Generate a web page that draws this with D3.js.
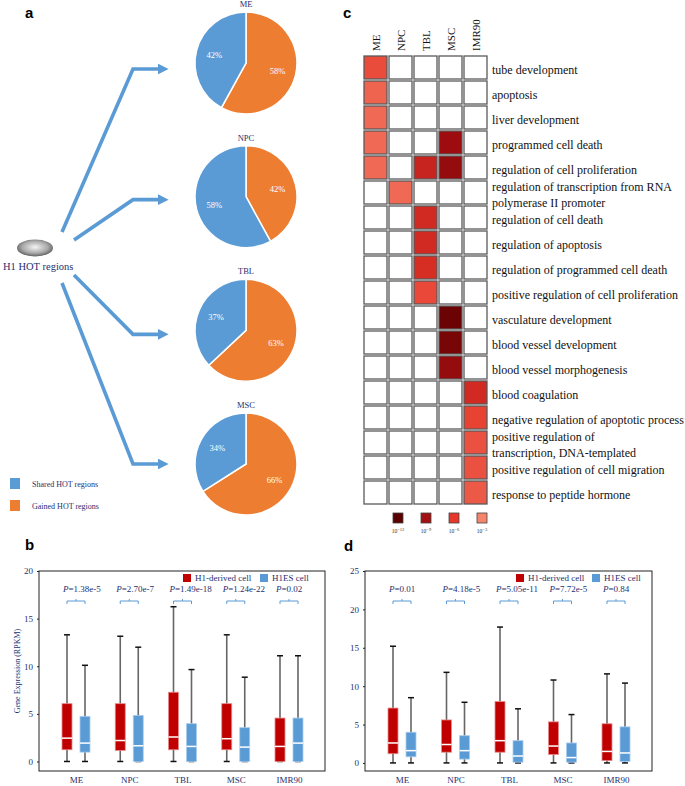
<!DOCTYPE html>
<html><head><meta charset="utf-8">
<script src="https://cdn.jsdelivr.net/npm/d3@7"></script>
<style>body{margin:0;background:#fff}</style>
</head><body><svg id="fig" width="685" height="786"></svg>
<script>
// ---------- DATA ----------
const pieCells = ["ME", "NPC", "TBL", "MSC"];
const gainedPct = [58, 42, 63, 66];
const sharedPct = [42, 58, 37, 34];
const pieLegend = ["Shared HOT regions", "Gained HOT regions"];

const goCols = ["ME", "NPC", "TBL", "MSC", "IMR90"];
const goTerms = [
  "tube development", "apoptosis", "liver development", "programmed cell death",
  "regulation of cell proliferation",
  "regulation of transcription from RNA\npolymerase II promoter",
  "regulation of cell death", "regulation of apoptosis", "regulation of programmed cell death",
  "positive regulation of cell proliferation", "vasculature development",
  "blood vessel development", "blood vessel morphogenesis", "blood coagulation",
  "negative regulation of apoptotic process",
  "positive regulation of\ntranscription, DNA-templated",
  "positive regulation of cell migration", "response to peptide hormone"
];
// log10 p-value per term (rows) and cell type (columns); null = not enriched
const goLogP = [
  [-5.2, null, null, null, null],
  [-4.3, null, null, null, null],
  [-4.1, null, null, null, null],
  [-4.1, null, null, -9.3, null],
  [-4.1, null, -7.4, -9.6, null],
  [null, -4.1, null, null, null],
  [null, null, -7.0, null, null],
  [null, null, -7.0, null, null],
  [null, null, -6.7, null, null],
  [null, null, -5.3, null, null],
  [null, null, null, -11.3, null],
  [null, null, null, -10.8, null],
  [null, null, null, -9.6, null],
  [null, null, null, null, -7.0],
  [null, null, null, null, -5.6],
  [null, null, null, null, -5.0],
  [null, null, null, null, -5.0],
  [null, null, null, null, -4.7]
];
const legendExp = [-12, -9, -6, -3];

const groups = ["ME", "NPC", "TBL", "MSC", "IMR90"];
const seriesNames = ["H1-derived cell", "H1ES cell"];
// [whisker low, Q1, median, Q3, whisker high]
const bDerived = [[0, 1.23, 2.45, 6.07, 13.3], [0, 1.16, 2.2, 6.07, 13.15], [0, 1.23, 2.57, 7.27, 16.25], [0, 1.23, 2.39, 6.07, 13.3], [0, 0, 1.58, 4.56, 11.1]];
const bES = [[0, 0.98, 1.93, 4.74, 10.1], [0, 0, 1.65, 4.84, 12.0], [0, 0, 1.58, 3.97, 9.65], [0, 0, 1.51, 3.55, 8.85], [0, 0, 1.93, 4.56, 11.1]];
const bPvals = ["1.38e-5", "2.70e-7", "1.49e-18", "1.24e-22", "0.02"];
const bTicks = [0, 5, 10, 15, 20];

const dDerived = [[0, 1.2, 2.6, 7.15, 15.2], [0, 1.4, 2.4, 5.6, 11.8], [0, 1.4, 2.9, 8.0, 17.7], [0, 1.1, 2.2, 5.35, 10.8], [0, 0.3, 1.5, 5.1, 11.6]];
const dES = [[0, 0.8, 1.6, 4.0, 8.5], [0, 0.5, 1.6, 3.55, 7.9], [0, 0.1, 0.9, 2.9, 7.05], [0, 0.1, 0.7, 2.6, 6.3], [0, 0.2, 1.3, 4.7, 10.4]];
const dPvals = ["0.01", "4.18e-5", "5.05e-11", "7.72e-5", "0.84"];
const dTicks = [0, 5, 10, 15, 20, 25];

// ---------- STYLE ----------
const NAVY = "#1f2f6e", BLUE = "#5b9bd5", ORANGE = "#ed7d31", RED = "#c00000";
const SERIF = "'Liberation Serif','Times New Roman',serif";
const SANS = "'Liberation Sans',Arial,sans-serif";
const svg = d3.select("#fig");
svg.append("rect").attr("width", 685).attr("height", 786).attr("fill", "#fff");

function panelLabel(t, x, y) {
  svg.append("text").attr("x", x).attr("y", y).text(t)
    .attr("font-family", SANS).attr("font-weight", "bold").attr("font-size", 15).attr("fill", "#000");
}
panelLabel("a", 25, 18); panelLabel("b", 25, 550); panelLabel("c", 343, 18); panelLabel("d", 344, 551);

// ---------- PANEL A ----------
const defs = svg.append("defs");
const grad = defs.append("radialGradient").attr("id", "eg").attr("cx", "50%").attr("cy", "45%").attr("r", "60%");
grad.append("stop").attr("offset", "0%").attr("stop-color", "#f4f4f4");
grad.append("stop").attr("offset", "60%").attr("stop-color", "#a8a8a8");
grad.append("stop").attr("offset", "100%").attr("stop-color", "#4a4a4a");
const mk = defs.append("marker").attr("id", "ah").attr("viewBox", "0 0 10 10").attr("refX", 2).attr("refY", 5)
  .attr("markerWidth", 3).attr("markerHeight", 3).attr("orient", "auto").attr("markerUnits", "strokeWidth");
mk.append("path").attr("d", "M0,0L10,5L0,10Z").attr("fill", BLUE);

const pieY = d3.scalePoint().domain(pieCells).range([63, 464]);
const pieCx = 246, pieR = 51;
const pie = d3.pie().sort(null).value(d => d.v);
const arc = d3.arc().innerRadius(0).outerRadius(pieR);
const labArc = d3.arc().innerRadius(pieR * 0.64).outerRadius(pieR * 0.64);
const starts = [[62, 232], [74, 240], [74, 275], [62, 283]];

pieCells.forEach((c, i) => {
  const cy = pieY(c);
  const g = svg.append("g").attr("transform", `translate(${pieCx},${cy})`);
  const arcs = pie([{ v: gainedPct[i], c: ORANGE }, { v: sharedPct[i], c: BLUE }]);
  g.selectAll("path").data(arcs).join("path").attr("d", arc).attr("fill", d => d.data.c)
    .attr("stroke", "#fff").attr("stroke-width", 1.5);
  g.selectAll("text.pct").data(arcs).join("text").attr("class", "pct")
    .attr("transform", d => `translate(${labArc.centroid(d)})`).attr("dy", "0.35em")
    .attr("text-anchor", "middle").attr("fill", "#fff").attr("font-family", SERIF).attr("font-size", 8.5)
    .text(d => d.data.v + "%");
  svg.append("text").attr("x", pieCx).attr("y", cy - pieR - 5).attr("text-anchor", "middle")
    .attr("font-family", SERIF).attr("font-size", 8.5).attr("fill", NAVY).text(c);
  const ay = cy + [6, 3, 4, 0][i];
  svg.append("polyline").attr("points", `${starts[i][0]},${starts[i][1]} ${133},${ay} ${160},${ay}`)
    .attr("fill", "none").attr("stroke", BLUE).attr("stroke-width", 3.6).attr("marker-end", "url(#ah)");
});
svg.append("ellipse").attr("cx", 35).attr("cy", 248).attr("rx", 18).attr("ry", 8.5).attr("fill", "url(#eg)");
svg.append("text").attr("x", 3).attr("y", 270).attr("font-family", SERIF).attr("font-size", 10.5)
  .attr("fill", NAVY).text("H1 HOT regions");
pieLegend.forEach((t, i) => {
  svg.append("rect").attr("x", 10).attr("y", 478 + i * 22).attr("width", 10).attr("height", 11).attr("fill", i ? ORANGE : BLUE);
  svg.append("text").attr("x", 32).attr("y", 487 + i * 22).attr("font-family", SERIF).attr("font-size", 8)
    .attr("fill", NAVY).text(t);
});

// ---------- PANEL C ----------
const cx = d3.scaleBand().domain(goCols).range([363, 488]).paddingInner(0.08).paddingOuter(0.04);
const cy = d3.scaleBand().domain(goTerms).range([55, 505]).paddingInner(0.08).paddingOuter(0.04);
const heat = d3.scaleLinear().domain([-12, -9, -6, -3]).range(["#5a0000", "#a40f12", "#e6372a", "#f5866c"]).clamp(true);
const cells = [];
goTerms.forEach((t, i) => goCols.forEach((c, j) => cells.push({ t, c, v: goLogP[i][j] })));
svg.append("g").selectAll("rect").data(cells).join("rect")
  .attr("x", d => cx(d.c)).attr("y", d => cy(d.t)).attr("width", cx.bandwidth()).attr("height", cy.bandwidth())
  .attr("fill", d => d.v == null ? "#fff" : heat(d.v)).attr("stroke", "#5a5a5a").attr("stroke-width", 1.3);
goCols.forEach(c => {
  svg.append("text").attr("transform", `translate(${cx(c) + cx.bandwidth() / 2 + 4},51) rotate(-90)`)
    .attr("font-family", SERIF).attr("font-size", 11).attr("fill", "#111").text(c);
});
goTerms.forEach(t => {
  const lines = t.split("\n");
  const mid = cy(t) + cy.bandwidth() / 2 + 2.5;
  lines.forEach((l, k) => {
    const off = lines.length === 1 ? 0 : (k === 0 ? -8 : 8);
    svg.append("text").attr("x", 492).attr("y", mid + off).attr("dy", "0.35em")
      .attr("font-family", SERIF).attr("font-size", 12).attr("fill", "#111").text(l);
  });
});
const lx = d3.scalePoint().domain(legendExp).range([398, 482]);
legendExp.forEach(e => {
  svg.append("rect").attr("x", lx(e) - 5).attr("y", 513).attr("width", 10).attr("height", 10)
    .attr("fill", heat(e)).attr("stroke", "#444").attr("stroke-width", 0.8);
  const tx = svg.append("text").attr("x", lx(e)).attr("y", 533).attr("text-anchor", "middle")
    .attr("font-family", SERIF).attr("font-size", 5.5).attr("fill", "#333");
  tx.append("tspan").text("10");
  tx.append("tspan").attr("dy", -2.5).attr("font-size", 4.5).text("−" + Math.abs(e));
});

// ---------- BOX PANELS ----------
function boxPanel(opt) {
  const { x0, x1, y0, y1, ymin, ymax, ticks, derived, es, pvals, ylabel, legX } = opt;
  const y = d3.scaleLinear().domain([ymin, ymax]).range([y1, y0]);
  const x = d3.scalePoint().domain(groups).range([x0 + 37, x1 - 36]);
  const g = svg.append("g");
  g.append("rect").attr("x", x0).attr("y", y0).attr("width", x1 - x0).attr("height", y1 - y0)
    .attr("fill", "none").attr("stroke", "#222").attr("stroke-width", 1);
  const ax = g.append("g").attr("transform", `translate(${x0},0)`)
    .call(d3.axisLeft(y).tickValues(ticks).tickSize(2).tickPadding(4));
  ax.select(".domain").remove();
  ax.selectAll("line").attr("stroke", "#222");
  ax.selectAll("text").attr("font-family", SERIF).attr("font-size", 9).attr("fill", NAVY);
  const xa = g.append("g").attr("transform", `translate(0,${y1})`).call(d3.axisBottom(x).tickSize(0).tickPadding(6));
  xa.select(".domain").remove();
  xa.selectAll("text").attr("font-family", SERIF).attr("font-size", 9).attr("fill", NAVY);
  if (ylabel) {
    g.append("text").attr("transform", `translate(20,${(y0 + y1) / 2}) rotate(-90)`).attr("text-anchor", "middle")
      .attr("font-family", SERIF).attr("font-size", 8).attr("fill", NAVY).text(ylabel);
  }
  const off = 9, bw = 10;
  function box(cxp, s, col) {
    g.append("line").attr("x1", cxp).attr("x2", cxp).attr("y1", y(s[0])).attr("y2", y(s[4]))
      .attr("stroke", "#666").attr("stroke-width", 1.6);
    [s[0], s[4]].forEach(v => g.append("line").attr("x1", cxp - 3).attr("x2", cxp + 3).attr("y1", y(v)).attr("y2", y(v))
      .attr("stroke", "#111").attr("stroke-width", 1.5));
    g.append("rect").attr("x", cxp - bw / 2).attr("y", y(s[3])).attr("width", bw).attr("height", y(s[1]) - y(s[3]))
      .attr("fill", col).attr("stroke", col === RED ? "#e88a8a" : "#a9cdee").attr("stroke-width", 0.8);
    g.append("line").attr("x1", cxp - bw / 2).attr("x2", cxp + bw / 2).attr("y1", y(s[2])).attr("y2", y(s[2]))
      .attr("stroke", "#fff").attr("stroke-width", 1.5);
  }
  groups.forEach((gr, i) => {
    const xr = x(gr) - off, xb = x(gr) + off;
    box(xr, derived[i], RED);
    box(xb, es[i], BLUE);
    const t = g.append("text").attr("x", xr - 4).attr("y", y0 + 21).attr("font-family", SERIF)
      .attr("font-size", 9).attr("fill", NAVY);
    t.append("tspan").attr("font-style", "italic").text("P");
    t.append("tspan").text("=" + pvals[i]);
    const by = y0 + 30;
    g.append("path").attr("d", `M${xr},${by + 3}V${by}H${xb}V${by + 3}M${(xr + xb) / 2},${by}v-2`)
      .attr("fill", "none").attr("stroke", BLUE).attr("stroke-width", 1);
  });
  seriesNames.forEach((n, k) => {
    const lxp = legX[k];
    g.append("rect").attr("x", lxp).attr("y", y0 + 3).attr("width", 8).attr("height", 8).attr("fill", k ? BLUE : RED);
    g.append("text").attr("x", lxp + 12).attr("y", y0 + 10).attr("font-family", SERIF).attr("font-size", 9)
      .attr("fill", NAVY).text(n);
  });
}
boxPanel({ x0: 39, x1: 325, y0: 571, y1: 771, ymin: -1, ymax: 20, ticks: bTicks, derived: bDerived, es: bES,
  pvals: bPvals, ylabel: "Gene Expression (RPKM)", legX: [183, 260] });
boxPanel({ x0: 365, x1: 652, y0: 571, y1: 771, ymin: -1.05, ymax: 25, ticks: dTicks, derived: dDerived, es: dES,
  pvals: dPvals, ylabel: null, legX: [516, 592] });
</script></body></html>
